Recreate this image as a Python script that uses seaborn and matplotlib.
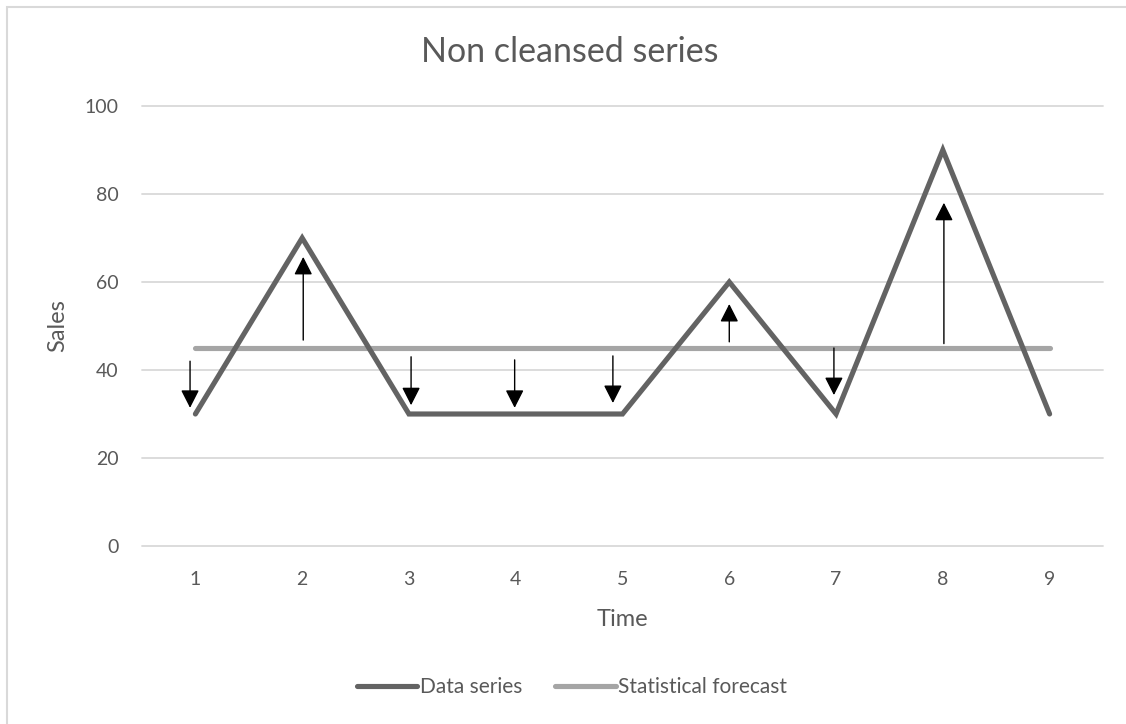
import matplotlib
matplotlib.use("Agg")
import matplotlib.pyplot as plt
import seaborn as sns
import pandas as pd
from matplotlib.patches import Rectangle

# Data
time = [1, 2, 3, 4, 5, 6, 7, 8, 9]
data_series = [30, 70, 30, 30, 30, 60, 30, 90, 30]
forecast = [45, 45, 45, 45, 45, 45, 45, 45, 45]
# Arrows (deviation markers): x position, start value, end value
arrow_x = [0.95, 2.01, 3.02, 3.99, 4.91, 6.0, 6.98, 8.01]
arrow_start = [42, 46.8, 43, 42.3, 43.2, 46.4, 45, 46]
arrow_end = [31.4, 65.7, 32, 31.4, 32.5, 55, 34.3, 78]

sns.set_theme(style="white")
plt.rcParams['font.family'] = ['Lato', 'DejaVu Sans']

text_color = "#595959"
dark = "#636363"
light = "#A5A5A5"
grid = "#D9D9D9"

fig = plt.figure(figsize=(11.26, 7.24), dpi=100)
ax = fig.add_axes([142/1126, 178/724, (1103-142)/1126, (546-106)/724])

df = pd.DataFrame({"Time": time, "Data series": data_series, "Statistical forecast": forecast})

sns.lineplot(data=df, x="Time", y="Data series", ax=ax, color=dark, lw=3.7,
             label="Data series", solid_joinstyle="miter", solid_capstyle="round", zorder=3)
sns.lineplot(data=df, x="Time", y="Statistical forecast", ax=ax, color=light, lw=3.7,
             label="Statistical forecast", solid_capstyle="round", zorder=2)

for x, s, e in zip(arrow_x, arrow_start, arrow_end):
    ax.annotate("", xy=(x, e), xytext=(x, s),
                arrowprops=dict(arrowstyle="-|>,head_length=0.55,head_width=0.28",
                                mutation_scale=20, lw=1.0, color="black",
                                shrinkA=0, shrinkB=0), zorder=4)

ax.set_xlim(0.5, 9.5)
ax.set_ylim(0, 100)
ax.set_xticks(time)
ax.set_yticks([0, 20, 40, 60, 80, 100])
ax.grid(axis="y", color=grid, lw=1.3)
ax.set_axisbelow(True)
for sp in ax.spines.values():
    sp.set_visible(False)
ax.tick_params(axis="both", length=0, labelsize=14, colors=text_color)
ax.tick_params(axis="x", pad=18)
ax.tick_params(axis="y", pad=17)
for line in ax.get_ygridlines():
    line.set_clip_on(False)

ax.set_xlabel("Time", fontsize=17, color=text_color, labelpad=15)
ax.set_ylabel("Sales", fontsize=17, color=text_color, labelpad=12)
fig.text(570/1126, 1 - 52/724, "Non cleansed series", fontsize=24.5, color=text_color,
         ha="center", va="center")

leg = ax.legend(loc="lower center", bbox_to_anchor=(572/1126, 0), bbox_transform=fig.transFigure,
                ncol=2, frameon=False, fontsize=15, handlelength=2.9, handletextpad=0.12,
                columnspacing=1.6, borderaxespad=0.9)
for t in leg.get_texts():
    t.set_color(text_color)

fig.patches.append(Rectangle((7/1126, -0.05), 1.2, 1 - 7/724 + 0.05,
                             transform=fig.transFigure, fill=False,
                             edgecolor="#D9D9D9", lw=1.5, zorder=0))

fig.savefig("out.png", dpi=100, facecolor="white")
